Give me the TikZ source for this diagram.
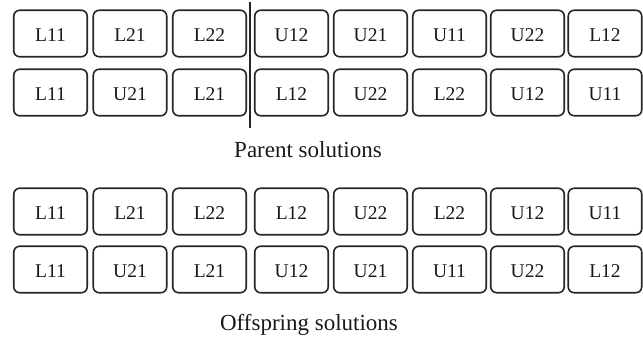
\documentclass[tikz,border=0pt]{standalone}
\usepackage{fontspec}
\setmainfont{Liberation Serif}
\begin{document}
\begin{tikzpicture}[x=1pt,y=-1pt,
  gene/.style={draw=black!85, line width=1.6pt, rounded corners=6pt,
    minimum width=73.5pt, minimum height=46.5pt, inner sep=0pt,
    text height=16pt, text depth=0pt,
    text=black!90, font=\fontsize{19.5}{22}\selectfont},
  caption/.style={text=black!90, font=\fontsize{23}{26}\selectfont}]
  \useasboundingbox (0,0) rectangle (643,341);
  % column centres (shared by all four chromosomes)
  \def\cols{50.5,130,209.5,291.5,370.5,449.5,527.5,605}
  % parent chromosomes
  \foreach \lab [count=\i] in {L11,L21,L22,U12,U21,U11,U22,L12}{
    \pgfmathsetmacro\cx{{\cols}[\i-1]}
    \node[gene] (pa\i) at (\cx,33.5) {\lab};
  }
  \foreach \lab [count=\i] in {L11,U21,L21,L12,U22,L22,U12,U11}{
    \pgfmathsetmacro\cx{{\cols}[\i-1]}
    \node[gene] (pb\i) at (\cx,92.5) {\lab};
  }
  % crossover point
  \coordinate (cuttop) at (250,2);
  \coordinate (cutbot) at (250,128);
  \draw[line width=1.5pt, black!85] (cuttop) -- (cutbot);
  \node[caption] (parents) at (308,150) {Parent solutions};
  % offspring chromosomes
  \foreach \lab [count=\i] in {L11,L21,L22,L12,U22,L22,U12,U11}{
    \pgfmathsetmacro\cx{{\cols}[\i-1]}
    \node[gene] (oa\i) at (\cx,211.5) {\lab};
  }
  \foreach \lab [count=\i] in {L11,U21,L21,U12,U21,U11,U22,L12}{
    \pgfmathsetmacro\cx{{\cols}[\i-1]}
    \node[gene] (ob\i) at (\cx,269.5) {\lab};
  }
  \node[caption] (offspring) at (309,325) {Offspring solutions};
\end{tikzpicture}
\end{document}
